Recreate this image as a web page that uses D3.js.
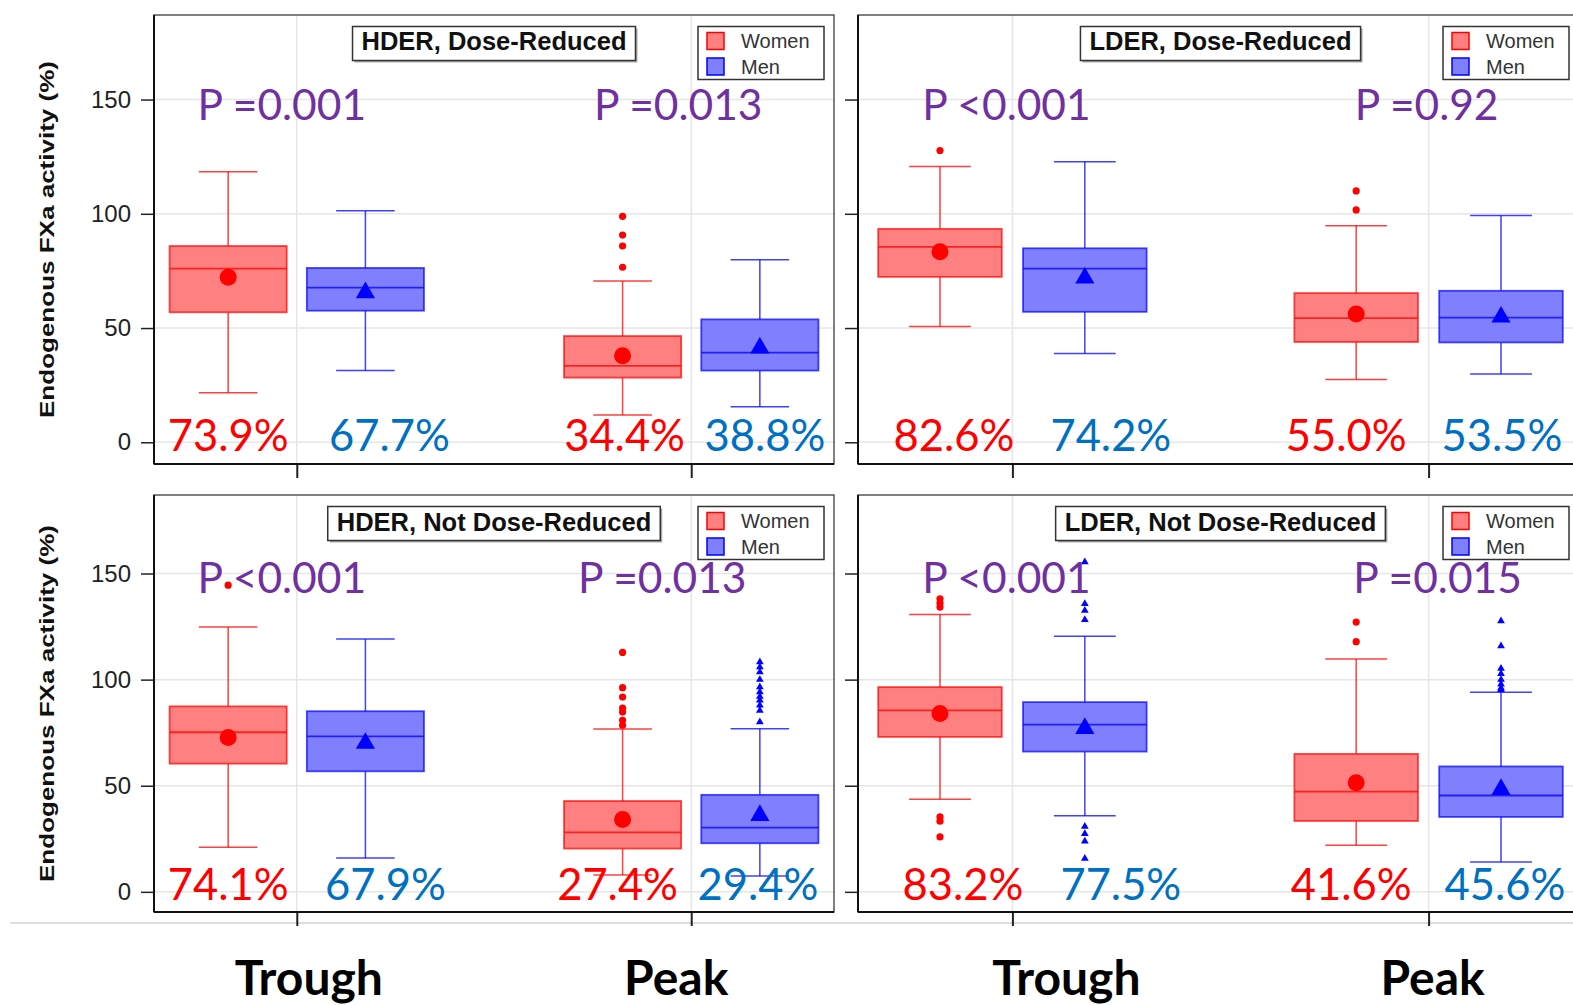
<!DOCTYPE html>
<html><head><meta charset="utf-8">
<script src="https://cdn.jsdelivr.net/npm/d3@7"></script>
<style>body{margin:0;background:#fff} svg{display:block}</style>
</head><body>
<script>
// ---------------- DATA ----------------
const panelTitles = ["HDER, Dose-Reduced", "LDER, Dose-Reduced", "HDER, Not Dose-Reduced", "LDER, Not Dose-Reduced"];
const timepoints = ["Trough", "Peak"];
const sexes = ["Women", "Men"];
const yTicks = [0, 50, 100, 150];
// each inner array: [Trough-Women, Trough-Men, Peak-Women, Peak-Men]
const whiskerLow  = [[21.7, 31.4, 11.9, 15.6], [50.7, 38.9, 27.5, 29.9], [21.0, 15.9, 7.9, 7.5],  [43.6, 35.9, 22.0, 14.1]];
const q1          = [[56.9, 57.6, 28.3, 31.4], [72.4, 57.1, 43.9, 43.7], [60.4, 56.8, 20.4, 22.9], [73.0, 66.1, 33.4, 35.3]];
const median      = [[76.0, 67.7, 33.4, 39.2], [85.5, 76.0, 54.3, 54.6], [75.2, 73.3, 28.0, 30.3], [85.5, 78.8, 47.2, 45.4]];
const q3          = [[85.9, 76.3, 46.5, 53.8], [93.4, 84.9, 65.3, 66.3], [87.4, 85.1, 42.8, 45.7], [96.5, 89.4, 65.0, 59.1]];
const whiskerHigh = [[118.4, 101.3, 70.6, 79.9], [120.7, 122.8, 94.8, 99.2], [124.8, 119.1, 76.7, 76.9], [130.7, 120.4, 109.7, 94.0]];
const means       = [[72.2, 65.5, 37.9, 41.3], [83.4, 71.9, 56.1, 54.8], [72.7, 70.0, 34.1, 36.0], [84.0, 77.0, 51.4, 48.3]];
const outliers = [
  [[], [], [76.6, 85.9, 90.7, 98.9], []],
  [[127.7], [], [101.7, 110.0], []],
  [[144.5], [], [78.5, 80.8, 84.7, 86.6, 91.8, 96.2, 112.8],
   [80.0, 85.5, 87.9, 90.3, 92.1, 94.2, 96.5, 100.0, 103.6, 105.9, 108.3]],
  [[25.9, 33.3, 35.3, 134.2, 136.1, 138.1], [15.7, 23.8, 27.4, 30.8, 128.2, 132.6, 135.8, 155.4],
   [117.9, 127.1], [95.2, 96.0, 97.8, 100.0, 102.8, 105.2, 115.8, 127.6]]
];
const pctLabels = [["73.9%", "67.7%", "34.4%", "38.8%"], ["82.6%", "74.2%", "55.0%", "53.5%"],
                   ["74.1%", "67.9%", "27.4%", "29.4%"], ["83.2%", "77.5%", "41.6%", "45.6%"]];
const pLabels = [["P =0.001", "P =0.013"], ["P <0.001", "P =0.92"], ["P <0.001", "P =0.013"], ["P <0.001", "P =0.015"]];
const yTitle = "Endogenous FXa activity (%)";

// ---------------- LAYOUT ----------------
const W = 1573, H = 1005;
const cols = [[154, 834], [858, 1583]];
const colPadding = [0.362, 0.371];
const rows = [[15, 464], [495, 912]];
const yDomain = [-9.5, 187];
// annotation nudges (pixels) taken from the reference placement
const pctShift = [[0, 24, 2, 5], [14, 26, -10, 1], [0, 20, -5, -2], [23, 36, -5, 4]];
const pShift = [[-15, -13], [-6, -2], [-15, -29], [-6, 9]];
const catLabelShift = [[12, -15], [54, 4]];

const colors = {
  Women: {fill: "#ff8080", stroke: "#ff0000", mark: "#ff0000", text: "#ff0000"},
  Men:   {fill: "#8080ff", stroke: "#0000ff", mark: "#0000ff", text: "#0070c0"}
};

const svg = d3.select("body").append("svg").attr("width", W).attr("height", H);

// separator line under bottom panels
svg.append("line").attr("x1", 10).attr("x2", W).attr("y1", 923).attr("y2", 923)
  .attr("stroke", "#d0d0d0").attr("stroke-width", 1.5);

panelTitles.forEach((title, pi) => {
  const c = pi % 2, r = Math.floor(pi / 2);
  const [x0, x1] = cols[c], [y0, y1] = rows[r];
  const x = d3.scalePoint().domain(timepoints).range([x0, x1]).padding(colPadding[c]);
  const step = x.step();
  const xs = d3.scaleBand().domain(sexes).range([-0.348 * step, 0.348 * step]);
  const bw = 0.297 * step;
  const y = d3.scaleLinear().domain(yDomain).range([y1, y0]);
  const g = svg.append("g");

  // gridlines
  g.selectAll("line.hg").data(yTicks).join("line")
    .attr("x1", x0).attr("x2", x1).attr("y1", d => y(d)).attr("y2", d => y(d))
    .attr("stroke", "#e6e6e6").attr("stroke-width", 1.5);
  g.selectAll("line.vg").data(timepoints).join("line")
    .attr("x1", d => x(d)).attr("x2", d => x(d)).attr("y1", y0).attr("y2", y1)
    .attr("stroke", "#e6e6e6").attr("stroke-width", 1.5);

  // axes
  const ya = d3.axisLeft(y).tickValues(yTicks).tickSize(13).tickPadding(10);
  if (c === 1) ya.tickFormat("");
  const yg = g.append("g").attr("transform", `translate(${x0},0)`).call(ya);
  yg.select(".domain").remove();
  yg.selectAll(".tick line").attr("stroke", "#222").attr("stroke-width", 1.5);
  yg.selectAll(".tick text").attr("font-family", "Liberation Sans, Arial, sans-serif")
    .attr("font-size", 24).attr("fill", "#222");
  const xa = d3.axisBottom(x).tickSize(14).tickFormat("");
  const xg = g.append("g").attr("transform", `translate(0,${y1})`).call(xa);
  xg.select(".domain").remove();
  xg.selectAll(".tick line").attr("stroke", "#222").attr("stroke-width", 2);

  // frame
  g.append("rect").attr("x", x0).attr("y", y0).attr("width", x1 - x0).attr("height", y1 - y0)
    .attr("fill", "none").attr("stroke", "#555").attr("stroke-width", 1.5);
  g.append("line").attr("x1", x0).attr("x2", x0).attr("y1", y0).attr("y2", y1).attr("stroke", "#111").attr("stroke-width", 2);
  g.append("line").attr("x1", x0).attr("x2", x1).attr("y1", y1).attr("y2", y1).attr("stroke", "#111").attr("stroke-width", 2);

  // boxes
  const groups = [];
  timepoints.forEach((tp, ti) => sexes.forEach((sx, si) => {
    const k = ti * 2 + si;
    groups.push({tp, sx, k, cx: x(tp) + xs(sx) + xs.bandwidth() / 2,
      lo: whiskerLow[pi][k], q1: q1[pi][k], med: median[pi][k], q3: q3[pi][k],
      hi: whiskerHigh[pi][k], mean: means[pi][k], out: outliers[pi][k], pct: pctLabels[pi][k]});
  }));

  groups.forEach(d => {
    const col = colors[d.sx];
    const bg = g.append("g");
    // whiskers
    bg.append("line").attr("x1", d.cx).attr("x2", d.cx).attr("y1", y(d.hi)).attr("y2", y(d.q3))
      .attr("stroke", col.stroke).attr("stroke-opacity", 0.75).attr("stroke-width", 1.5);
    bg.append("line").attr("x1", d.cx).attr("x2", d.cx).attr("y1", y(d.q1)).attr("y2", y(d.lo))
      .attr("stroke", col.stroke).attr("stroke-opacity", 0.75).attr("stroke-width", 1.5);
    [d.hi, d.lo].forEach(v => bg.append("line")
      .attr("x1", d.cx - bw / 4).attr("x2", d.cx + bw / 4).attr("y1", y(v)).attr("y2", y(v))
      .attr("stroke", col.stroke).attr("stroke-opacity", 0.75).attr("stroke-width", 1.5));
    // box
    bg.append("rect").attr("x", d.cx - bw / 2).attr("width", bw)
      .attr("y", y(d.q3)).attr("height", y(d.q1) - y(d.q3))
      .attr("fill", col.fill).attr("stroke", col.stroke).attr("stroke-opacity", 0.7).attr("stroke-width", 1.8);
    bg.append("line").attr("x1", d.cx - bw / 2).attr("x2", d.cx + bw / 2).attr("y1", y(d.med)).attr("y2", y(d.med))
      .attr("stroke", col.stroke).attr("stroke-opacity", 0.75).attr("stroke-width", 1.8);
    // mean
    if (d.sx === "Women") {
      bg.append("circle").attr("cx", d.cx).attr("cy", y(d.mean)).attr("r", 8.5).attr("fill", col.mark);
    } else {
      bg.append("path").attr("d", d3.symbol(d3.symbolTriangle, 160)())
        .attr("transform", `translate(${d.cx},${y(d.mean)})`).attr("fill", col.mark);
    }
    // outliers
    d.out.forEach(v => {
      if (d.sx === "Women") {
        bg.append("circle").attr("cx", d.cx).attr("cy", y(v)).attr("r", 3.6).attr("fill", col.mark);
      } else {
        bg.append("path").attr("d", d3.symbol(d3.symbolTriangle, 26)())
          .attr("transform", `translate(${d.cx},${y(v)})`).attr("fill", col.mark);
      }
    });
    // percentage label
    g.append("text").attr("x", d.cx + pctShift[pi][d.k]).attr("y", y(-4))
      .attr("text-anchor", "middle").attr("font-family", "Lato, sans-serif").attr("font-size", 43.5)
      .attr("fill", col.text).text(d.pct);
  });

  // P values
  timepoints.forEach((tp, ti) => {
    g.append("text").attr("x", x(tp) + pShift[pi][ti]).attr("y", y(141))
      .attr("text-anchor", "middle").attr("font-family", "Lato, sans-serif").attr("font-size", 42.5)
      .attr("fill", "#7030a0").text(pLabels[pi][ti]);
  });

  // title box
  const tg = g.append("g");
  const tt = tg.append("text").attr("x", (x0 + x1) / 2).attr("y", y0 + 35 + (r === 1 ? 1 : 0))
    .attr("text-anchor", "middle").attr("font-family", "Liberation Sans, Arial, sans-serif")
    .attr("font-weight", "bold").attr("font-size", 25.5).attr("fill", "#111").text(title);
  const bb = tt.node().getBBox();
  const bx = bb.x - 9, bwid = bb.width + 18, by = y0 + 11.5, bh = 34;
  tg.insert("rect", "text").attr("x", bx + 2).attr("y", by + 2).attr("width", bwid).attr("height", bh)
    .attr("fill", "#aaa");
  tg.insert("rect", "text").attr("x", bx).attr("y", by).attr("width", bwid).attr("height", bh)
    .attr("fill", "#fff").attr("stroke", "#333").attr("stroke-width", 1.5);

  // legend
  const lw = 126, lh = 53, lx = (c === 0 ? x1 - 10 : x1 - 14) - lw, ly = y0 + 11.5;
  const lg = g.append("g").attr("transform", `translate(${lx},${ly})`);
  lg.append("rect").attr("width", lw).attr("height", lh).attr("fill", "#fff")
    .attr("stroke", "#333").attr("stroke-width", 1.5);
  sexes.forEach((sx, si) => {
    lg.append("rect").attr("x", 9).attr("y", 6 + si * 25.5).attr("width", 17).attr("height", 17)
      .attr("fill", colors[sx].fill).attr("stroke", colors[sx].stroke).attr("stroke-width", 1.5);
    lg.append("text").attr("x", 43).attr("y", 21.5 + si * 26)
      .attr("font-family", "Liberation Sans, Arial, sans-serif").attr("font-size", 20)
      .attr("fill", "#333").text(sx);
  });

  // y title (left column only)
  if (c === 0) {
    g.append("text").attr("transform", `translate(54,${(y0 + y1) / 2}) rotate(-90)`)
      .attr("text-anchor", "middle").attr("font-family", "Liberation Sans, Arial, sans-serif")
      .attr("font-weight", "bold").attr("font-size", 21).attr("fill", "#111")
      .attr("textLength", 357).attr("lengthAdjust", "spacingAndGlyphs").text(yTitle);
  }

  // category labels below bottom row
  if (r === 1) {
    timepoints.forEach((tp, ti) => {
      svg.append("text").attr("x", x(tp) + catLabelShift[c][ti]).attr("y", 995)
        .attr("text-anchor", "middle").attr("font-family", "Lato, sans-serif")
        .attr("font-weight", "bold").attr("font-size", 48).attr("fill", "#000").text(tp);
    });
  }
});
</script>
</body></html>
